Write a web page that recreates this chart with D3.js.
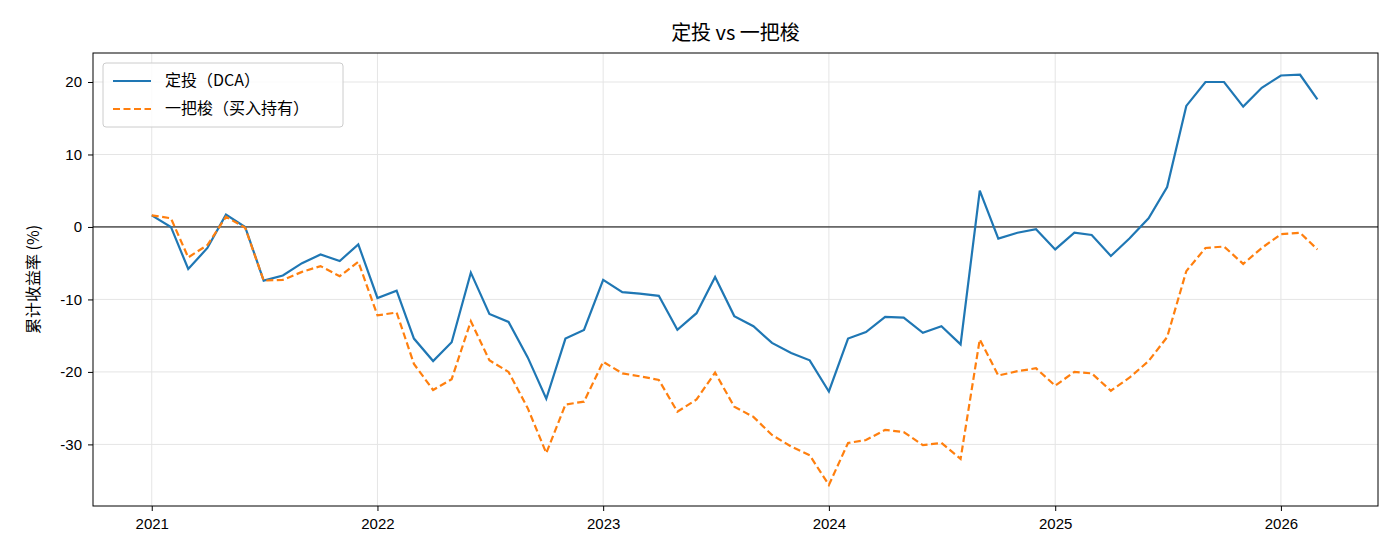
<!DOCTYPE html>
<html><head><meta charset="utf-8">
<script src="https://cdn.jsdelivr.net/npm/d3@7"></script>
<style>body{margin:0;background:#fff}svg{font-family:"Noto Sans CJK SC","DejaVu Sans",sans-serif}</style>
</head><body><div id="chart"></div>
<script>
const months = d3.timeMonths(new Date(2021,0,1), new Date(2026,3,1)); // 2021-01 .. 2026-03
const dcaValues = [1.6,0,-5.8,-2.9,1.7,0,-7.4,-6.7,-5.0,-3.8,-4.7,-2.4,
  -9.8,-8.8,-15.4,-18.5,-15.9,-6.3,-12.0,-13.1,-18.0,-23.7,-15.4,-14.2,
  -7.3,-9.0,-9.2,-9.5,-14.2,-11.9,-6.9,-12.3,-13.7,-16.0,-17.4,-18.4,
  -22.7,-15.4,-14.5,-12.4,-12.5,-14.6,-13.7,-16.2,5.0,-1.6,-0.8,-0.3,
  -3.1,-0.8,-1.1,-4.0,-1.6,1.2,5.5,16.7,20.0,20.0,16.6,19.2,
  20.9,21.0,17.6];
const lumpValues = [1.6,1.2,-4.2,-2.5,1.4,-0.1,-7.4,-7.3,-6.2,-5.4,-6.8,-4.8,
  -12.2,-11.8,-18.9,-22.5,-21.0,-13.0,-18.4,-20.0,-25.0,-31.2,-24.5,-24.1,
  -18.6,-20.2,-20.6,-21.1,-25.5,-23.8,-20.1,-24.8,-26.2,-28.7,-30.3,-31.5,
  -35.6,-29.8,-29.4,-28.0,-28.3,-30.1,-29.8,-32.0,-15.5,-20.5,-19.9,-19.5,
  -21.9,-20.0,-20.2,-22.6,-20.8,-18.5,-15.2,-6.1,-2.9,-2.7,-5.1,-2.9,
  -1.0,-0.8,-3.1];
const seriesNames = ["定投（DCA）", "一把梭（买入持有）"];
const yTicks = [-30,-20,-10,0,10,20];

const W = 1400, H = 560, m = {l:93, r:22, t:53, b:54};
const svg = d3.select("#chart").append("svg").attr("width", W).attr("height", H);
const x = d3.scaleTime().domain([new Date(2020,8,28), new Date(2026,5,7)]).range([m.l, W-m.r]);
const y = d3.scaleLinear().domain([-38.5, 24]).range([H-m.b, m.t]);

const g = svg.append("g");
// grid
g.selectAll(".gx").data(x.ticks(d3.timeYear)).join("line")
  .attr("x1", d => x(d)).attr("x2", d => x(d)).attr("y1", m.t).attr("y2", H-m.b)
  .attr("stroke", "#e5e5e5");
g.selectAll(".gy").data(yTicks).join("line")
  .attr("x1", m.l).attr("x2", W-m.r).attr("y1", d => y(d)).attr("y2", d => y(d))
  .attr("stroke", "#e5e5e5");
g.append("line").attr("x1", m.l).attr("x2", W-m.r).attr("y1", y(0)).attr("y2", y(0))
  .attr("stroke", "#000").attr("stroke-width", 1);

const line = d3.line().x((d,i) => x(months[i])).y(d => y(d));
g.append("path").attr("d", line(dcaValues)).attr("fill","none").attr("stroke","#1f77b4").attr("stroke-width",2.2);
g.append("path").attr("d", line(lumpValues)).attr("fill","none").attr("stroke","#ff7f0e").attr("stroke-width",2.2).attr("stroke-dasharray","7,3.5");

svg.append("rect").attr("x", m.l).attr("y", m.t).attr("width", W-m.l-m.r).attr("height", H-m.t-m.b)
  .attr("fill","none").attr("stroke","#000").attr("stroke-width",1);

const xa = svg.append("g").attr("transform", `translate(0,${H-m.b})`)
  .call(d3.axisBottom(x).ticks(d3.timeYear).tickFormat(d3.timeFormat("%Y")).tickSizeOuter(0).tickSize(5).tickPadding(7));
const ya = svg.append("g").attr("transform", `translate(${m.l},0)`)
  .call(d3.axisLeft(y).tickValues(yTicks).tickFormat(d => String(d)).tickSize(5).tickPadding(6).tickSizeOuter(0));
[xa, ya].forEach(a => { a.select(".domain").remove(); a.selectAll("text").attr("font-size", 15).attr("fill","#000"); a.selectAll("line").attr("stroke","#000"); });

svg.append("text").attr("x", (m.l + W - m.r)/2).attr("y", 40).attr("text-anchor","middle")
  .attr("font-size", 20).text("定投 vs 一把梭");
svg.append("text").attr("transform", `translate(39,${(m.t+H-m.b)/2}) rotate(-90)`).attr("text-anchor","middle")
  .attr("font-size", 16).text("累计收益率 (%)");

const lg = svg.append("g").attr("transform","translate(103,63)");
lg.append("rect").attr("width",240).attr("height",64).attr("rx",3).attr("fill","#fff").attr("fill-opacity",0.85).attr("stroke","#ccc");
seriesNames.forEach((n,i) => {
  const yy = 18 + i*28;
  lg.append("line").attr("x1",10).attr("x2",48).attr("y1",yy).attr("y2",yy)
    .attr("stroke", i ? "#ff7f0e" : "#1f77b4").attr("stroke-width",2.2).attr("stroke-dasharray", i ? "7,3.5" : null);
  lg.append("text").attr("x",62).attr("y",yy+5).attr("font-size",16).text(n);
});
</script></body></html>
